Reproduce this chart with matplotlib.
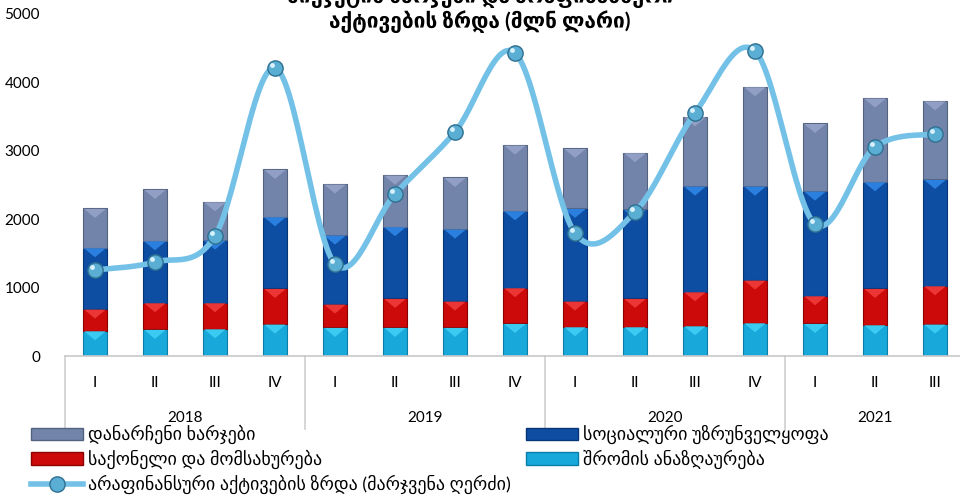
import numpy as np
import matplotlib.pyplot as plt
from matplotlib.patches import Patch
from matplotlib.lines import Line2D

plt.rcParams['font.family'] = ['Lato', 'DejaVu Sans']

# data (mln GEL)
years = ['2018', '2019', '2020', '2021']
quarters = ['I', 'II', 'III', 'IV', 'I', 'II', 'III', 'IV',
            'I', 'II', 'III', 'IV', 'I', 'II', 'III']
wages = [370, 390, 399, 468, 419, 419, 419, 477, 429, 429, 443, 487, 477, 458, 468]
goods = [317, 390, 381, 521, 341, 424, 385, 522, 375, 414, 497, 624, 405, 531, 560]
social = [896, 906, 916, 1048, 1009, 1048, 1053, 1125, 1355, 1300, 1545, 1374, 1530, 1559, 1555]
other = [576, 751, 560, 692, 746, 755, 755, 961, 877, 830, 1014, 1452, 989, 1224, 1149]
nonfin = [1257, 1374, 1754, 4211, 1345, 2368, 3275, 4430,
          1798, 2105, 3553, 4459, 1930, 3056, 3246]

lbl_other = 'დანარჩენი ხარჯები'
lbl_social = 'სოციალური უზრუნველყოფა'
lbl_goods = 'საქონელი და მომსახურება'
lbl_wages = 'შრომის ანაზღაურება'
lbl_line = 'არაფინანსური აქტივების ზრდა (მარჯვენა ღერძი)'

c_wages, c_goods, c_social, c_other = '#18A8DA', '#CC0A0A', '#0D4EA3', '#7384AB'
e_wages, e_goods, e_social, e_other = '#0A7EA8', '#8E0000', '#083576', '#55627F'
l_wages, l_goods, l_social, l_other = '#3FD0F5', '#F03A3A', '#2F86E6', '#95A3C8'
c_line = '#74C1E8'

###################################################

def smooth(x, y, n=30):                     # excel-like smoothed line (bezier)
    x = np.asarray(x, float); y = np.asarray(y, float)
    px = np.concatenate([[x[0]], x, [x[-1]]])
    py = np.concatenate([[y[0]], y, [y[-1]]])
    t = np.linspace(0, 1, n)[:, None]
    xs, ys = [], []
    for i in range(len(x) - 1):
        p0 = np.array([px[i+1], py[i+1]])
        p3 = np.array([px[i+2], py[i+2]])
        p1 = p0 + (p3 - np.array([px[i], py[i]])) / 6
        p2 = p3 - (np.array([px[i+3], py[i+3]]) - p0) / 6
        b = (1-t)**3*p0 + 3*(1-t)**2*t*p1 + 3*(1-t)*t**2*p2 + t**3*p3
        xs.append(b[:, 0]); ys.append(b[:, 1])
    return np.concatenate(xs), np.concatenate(ys)

###################################################

fig = plt.figure(figsize=(9.6, 4.96), dpi=100)
ax = fig.add_axes([65/960, 140/496, 900/960, 342/496])

x = np.arange(len(quarters))
w = 0.4
bottom = np.zeros(len(x))
for vals, fc, ec, lc in [(wages, c_wages, e_wages, l_wages),
                         (goods, c_goods, e_goods, l_goods),
                         (social, c_social, e_social, l_social),
                         (other, c_other, e_other, l_other)]:
    bars = ax.bar(x, vals, w, bottom=bottom, color=fc, edgecolor=ec, linewidth=0.8, zorder=2)
    for r in bars:                           # bevel highlight at top of each segment
        x0, y0, bw, bh = r.get_x(), r.get_y(), r.get_width(), r.get_height()
        d = min(140, bh * 0.45)
        ax.fill([x0 + 0.02, x0 + bw - 0.02, x0 + bw / 2],
                [y0 + bh - 8, y0 + bh - 8, y0 + bh - d],
                color=lc, lw=0, zorder=2.5, alpha=0.9)
    bottom = bottom + np.array(vals)

sx, sy = smooth(x, nonfin)
ax.plot(sx, sy, color=c_line, lw=4, zorder=3, solid_capstyle='round')
ax.plot(x, nonfin, 'o', ms=11, mfc='#5AAED4', mec='#2F6F90', mew=1.0, zorder=4)
ax.plot(x - 0.05, np.array(nonfin) + 45, 'o', ms=3.5, mfc='#D8F0FA', mec='none', zorder=5)

ax.set_xlim(-0.5, len(x) - 0.5)
ax.set_ylim(0, 5000)
ax.set_yticks(range(0, 5001, 1000))
ax.tick_params(axis='y', length=0, labelsize=11, pad=18)
ax.set_xticks([])
for s in ['top', 'right', 'left']:
    ax.spines[s].set_visible(False)
ax.spines['bottom'].set_color('#C8C8C8')
ax.spines['bottom'].set_linewidth(1.2)

# multi level category axis
for i, q in enumerate(quarters):
    ax.text(i, -395, q, ha='center', va='center', fontsize=11, clip_on=False)
starts = [0, 4, 8, 12]
for k, yr in enumerate(years):
    ends = starts[k+1] if k + 1 < len(starts) else len(x)
    ax.text((starts[k] + ends - 1) / 2, -910, yr, ha='center', va='center',
            fontsize=11, clip_on=False)
    ax.plot([starts[k] - 0.5] * 2, [0, -1060], color='#D0D0D0', lw=1.2, clip_on=False)

# title (first line cut by the top edge, as in the original)
fig.text(0.5, 1 + 3/496, 'ბიუჯეტის ხარჯები და არაფინანსური', ha='center', va='center',
         fontsize=15, fontweight='bold')
fig.text(0.5, 1 - 22/496, 'აქტივების ზრდა (მლნ ლარი)', ha='center', va='center',
         fontsize=15, fontweight='bold')

# legend
h_other = Patch(facecolor=c_other, edgecolor=e_other)
h_goods = Patch(facecolor=c_goods, edgecolor=e_goods)
h_social = Patch(facecolor=c_social, edgecolor=e_social)
h_wages = Patch(facecolor=c_wages, edgecolor=e_wages)
h_line = Line2D([], [], color=c_line, lw=4, marker='o', ms=11, mfc='#5AAED4', mec='#2F6F90')
kw = dict(frameon=False, fontsize=13, handlelength=2.9, handleheight=0.7,
          handletextpad=0.25, labelspacing=0.31, borderaxespad=0, borderpad=0)
leg1 = fig.legend([h_other, h_goods, h_line], [lbl_other, lbl_goods, lbl_line],
                  loc='upper left', bbox_to_anchor=(31/960, 1 - 425/496), **kw)
leg2 = fig.legend([h_social, h_wages], [lbl_social, lbl_wages],
                  loc='upper left', bbox_to_anchor=(526/960, 1 - 425/496), **kw)

fig.savefig('out.png', dpi=100)
